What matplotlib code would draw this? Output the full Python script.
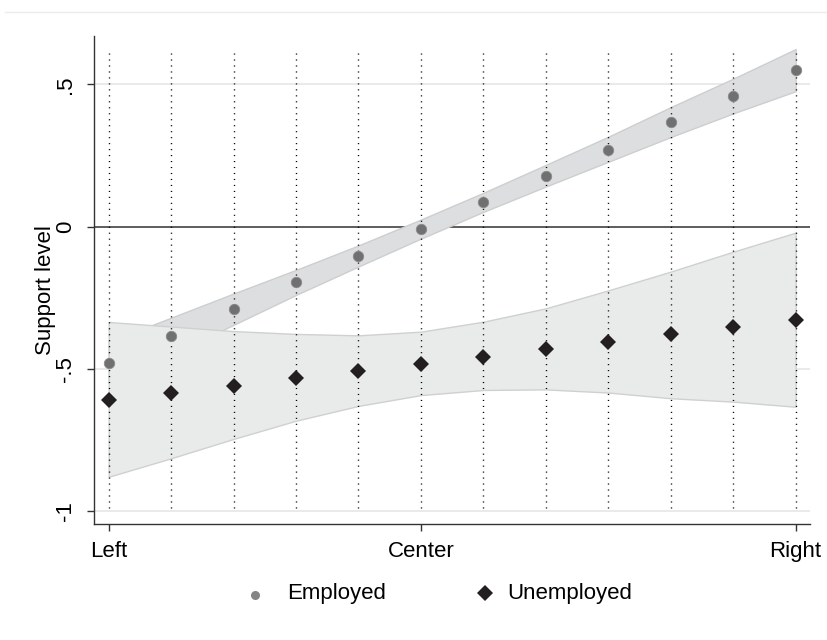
import matplotlib.pyplot as plt
from matplotlib.lines import Line2D
import numpy as np

plt.rcParams["font.family"] = ["Liberation Sans", "DejaVu Sans"]

# positions along the left-right scale
positions = np.arange(12)
xtick_pos = [0, 5, 11]
xtick_labels = ["Left", "Center", "Right"]
ytick_pos = [-1, -0.5, 0, 0.5]
ytick_labels = ["-1", "-.5", "0", ".5"]

employed = [-0.478, -0.384, -0.290, -0.196, -0.103, -0.008,
            0.086, 0.179, 0.271, 0.367, 0.458, 0.551]
employed_lo = [-0.55, -0.45, -0.345, -0.24, -0.14, -0.042,
               0.052, 0.141, 0.228, 0.315, 0.398, 0.476]
employed_hi = [-0.405, -0.32, -0.235, -0.152, -0.066, 0.025,
               0.119, 0.217, 0.316, 0.42, 0.52, 0.624]

unemployed = [-0.609, -0.583, -0.559, -0.531, -0.506, -0.481,
              -0.457, -0.429, -0.404, -0.378, -0.353, -0.327]
unemployed_lo = [-0.879, -0.814, -0.746, -0.682, -0.63, -0.592,
                 -0.574, -0.572, -0.583, -0.603, -0.615, -0.633]
unemployed_hi = [-0.335, -0.351, -0.367, -0.377, -0.382, -0.369,
                 -0.334, -0.287, -0.224, -0.158, -0.088, -0.021]

W, H = 827, 640
fs = 16

fig = plt.figure(figsize=(W / 100, H / 100), dpi=100)
ax = fig.add_axes([94 / W, 116 / H, 716 / W, 488 / H])

# faint frame line across the top of the graph region
fig.add_artist(Line2D([5 / W, 1], [1 - 12 / H] * 2, color="#ececec", lw=1))

for y in [-1, -0.5, 0.5]:
    ax.axhline(y, color="#e6e6e6", lw=1.2, zorder=0.5)
ax.axhline(0, color="#505050", lw=1.3, zorder=1)

ax.fill_between(positions, employed_lo, employed_hi, facecolor="#dddee0",
                edgecolor="#cdcecf", lw=1, zorder=2)
ax.fill_between(positions, unemployed_lo, unemployed_hi, facecolor="#e9eaea",
                edgecolor="#cfd0d0", lw=1, zorder=3)

for x in positions:
    ax.axvline(x, ymin=0.033, ymax=0.967, color="black", lw=1.0,
               linestyle=(0, (0.8, 3.5)), zorder=4)

ax.plot(positions, employed, "o", color="#707070", ms=7.5, mec="#8a8a8a",
        mew=0.6, zorder=5)
ax.plot(positions, unemployed, "D", color="#231f20", ms=8.4, mew=0, zorder=6)

ax.set_xlim(-0.235, 11.23)
ax.set_ylim(-1.045, 0.67)
ax.set_xticks(xtick_pos)
ax.set_xticklabels(xtick_labels, fontsize=fs)
ax.set_yticks(ytick_pos)
ax.set_yticklabels(ytick_labels, fontsize=fs, rotation=90, va="center")
ax.tick_params(axis="both", length=5, width=1, color="#333333")
ax.tick_params(axis="x", pad=7.5)
ax.tick_params(axis="y", pad=8)
ax.spines[["top", "right"]].set_visible(False)
for s in ["left", "bottom"]:
    ax.spines[s].set_color("#333333")
    ax.spines[s].set_linewidth(1)

fig.text(45 / W, 1 - 290 / H, "Support level", rotation=90,
         ha="center", va="center", fontsize=fs)

# legend drawn by hand to match the key spacing
fig.add_artist(Line2D([255 / W], [1 - 595 / H], marker="o", ls="none",
                      color="#858585", ms=6.5, mew=0))
fig.text(287 / W, 1 - 594 / H, "Employed", ha="left", va="center", fontsize=fs)
fig.add_artist(Line2D([485 / W], [1 - 593 / H], marker="D", ls="none",
                      color="#231f20", ms=8.2, mew=0))
fig.text(507 / W, 1 - 594 / H, "Unemployed", ha="left", va="center",
         fontsize=fs)

fig.savefig("out.png", dpi=100)
